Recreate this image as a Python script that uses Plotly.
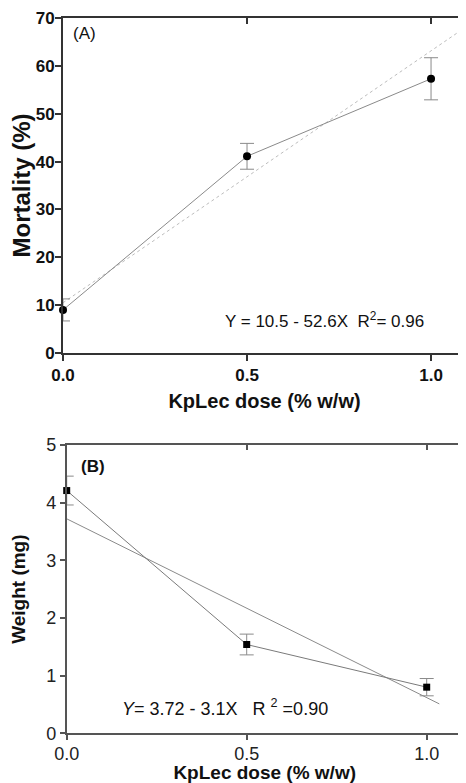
import plotly.graph_objects as go

# ---- data ----
dose = [0.0, 0.5, 1.0]
mortality = [9.0, 41.1, 57.3]
mortality_err = [2.3, 2.7, 4.4]
fit_a_x = [0.0, 1.1]
fit_a_y = [10.5, 68.4]

weight = [4.21, 1.54, 0.80]
weight_err = [0.25, 0.18, 0.15]
fit_b_x = [0.0, 1.035]
fit_b_y = [3.72, 0.51]

xticks = [0.0, 0.5, 1.0]
xticklabels = ["0.0", "0.5", "1.0"]
yticks_a = [0, 10, 20, 30, 40, 50, 60, 70]
yticks_b = [0, 1, 2, 3, 4, 5]

FONT = "Liberation Sans, Arial, sans-serif"
# page is 466x783; the default 8px body margin offsets the figure
OFF = 8
W, H = 466 - OFF, 783 - OFF


def fx(px):
    return (px - OFF) / W


def fy(py):
    return 1 - (py - OFF) / H


fig = go.Figure()

# Panel A
fig.add_trace(go.Scatter(x=fit_a_x, y=fit_a_y, mode="lines",
                         line=dict(color="#bdbdbd", width=1, dash="dot"),
                         xaxis="x", yaxis="y", showlegend=False, hoverinfo="skip"))
fig.add_trace(go.Scatter(x=dose, y=mortality, mode="lines+markers",
                         line=dict(color="#8a8a8a", width=1),
                         marker=dict(symbol="circle", size=8, color="black"),
                         error_y=dict(type="data", array=mortality_err, color="#8a8a8a",
                                      thickness=1, width=7),
                         cliponaxis=False, xaxis="x", yaxis="y", showlegend=False))
# Panel B
fig.add_trace(go.Scatter(x=fit_b_x, y=fit_b_y, mode="lines",
                         line=dict(color="#8a8a8a", width=1),
                         xaxis="x2", yaxis="y2", showlegend=False, hoverinfo="skip",
                         cliponaxis=False))
fig.add_trace(go.Scatter(x=dose, y=weight, mode="lines+markers",
                         line=dict(color="#7a7a7a", width=1),
                         marker=dict(symbol="square", size=7, color="black"),
                         error_y=dict(type="data", array=weight_err, color="#8a8a8a",
                                      thickness=1, width=7),
                         cliponaxis=False, xaxis="x2", yaxis="y2", showlegend=False))
# empty traces to materialise the mirrored-tick overlay axes
fig.add_trace(go.Scatter(x=[None], y=[None], xaxis="x3", yaxis="y3", showlegend=False))
fig.add_trace(go.Scatter(x=[None], y=[None], xaxis="x4", yaxis="y4", showlegend=False))

dom_a_x = [fx(63), 1.0]
dom_a_y = [fy(353), fy(18)]
dom_b_x = [fx(66.7), fx(462.7)]
dom_b_y = [fy(733.3), fy(445)]

tick_a = dict(family=FONT, size=17, color="#111")
tick_b = dict(family=FONT, size=18, color="#222")

fig.update_layout(
    template="none",
    width=W, height=H,
    margin=dict(l=0, r=0, t=0, b=0),
    paper_bgcolor="white", plot_bgcolor="white",
    showlegend=False,
    xaxis=dict(domain=dom_a_x, anchor="y", range=[0, 1.095],
               tickvals=xticks, ticktext=["<b>%s</b>" % t for t in xticklabels],
               ticks="outside", ticklen=6, tickwidth=2, tickcolor="#333",
               showline=True, linecolor="#333", linewidth=2, mirror=True,
               showgrid=False, zeroline=False, tickfont=tick_a, automargin=False,
               title=dict(text="<b>KpLec dose (% w/w)</b>", standoff=10,
                          font=dict(family=FONT, size=20, color="#111"))),
    yaxis=dict(domain=dom_a_y, anchor="x", range=[0, 70],
               tickvals=yticks_a, ticktext=["<b>%d</b>" % v for v in yticks_a],
               ticks="outside", ticklen=6, tickwidth=2, tickcolor="#333",
               ticklabelstandoff=-3,
               showline=True, linecolor="#333", linewidth=2, mirror=True,
               showgrid=False, zeroline=False, tickfont=tick_a, automargin=False,
               title=dict(text="<b>Mortality (%)</b>", standoff=2,
                          font=dict(family=FONT, size=24, color="#111"))),
    xaxis3=dict(overlaying="x", anchor="y", side="top", range=[0, 1.095],
                tickvals=[0.5, 1.0], showticklabels=False,
                ticks="inside", ticklen=6, tickwidth=2, tickcolor="#333",
                showline=False, showgrid=False, zeroline=False, automargin=False),
    yaxis3=dict(overlaying="y", anchor="x", side="right", range=[0, 70],
                tickvals=yticks_a[1:-1], showticklabels=False,
                ticks="inside", ticklen=6, tickwidth=2, tickcolor="#333",
                showline=False, showgrid=False, zeroline=False, automargin=False),
    xaxis2=dict(domain=dom_b_x, anchor="y2", range=[0, 1.1],
                tickvals=xticks, ticktext=xticklabels,
                ticks="outside", ticklen=5, tickwidth=1.5, tickcolor="#555",
                ticklabelstandoff=-2,
                showline=True, linecolor="#555", linewidth=1.5, mirror=True,
                showgrid=False, zeroline=False, tickfont=tick_b, automargin=False,
                title=dict(text="<b>KpLec dose (% w/w)</b>", standoff=4,
                           font=dict(family=FONT, size=19, color="#111"))),
    yaxis2=dict(domain=dom_b_y, anchor="x2", range=[0, 5],
                tickvals=yticks_b,
                ticks="outside", ticklen=5, tickwidth=1.5, tickcolor="#555",
                showline=True, linecolor="#555", linewidth=1.5, mirror=True,
                showgrid=False, zeroline=False, tickfont=tick_b, automargin=False,
                title=dict(text="<b>Weight (mg)</b>", standoff=20,
                           font=dict(family=FONT, size=19, color="#111"))),
    xaxis4=dict(overlaying="x2", anchor="y2", side="top", range=[0, 1.1],
                tickvals=[0.5, 1.0], showticklabels=False,
                ticks="inside", ticklen=5, tickwidth=1.5, tickcolor="#555",
                showline=False, showgrid=False, zeroline=False, automargin=False),
    yaxis4=dict(overlaying="y2", anchor="x2", side="right", range=[0, 5],
                tickvals=yticks_b[1:-1], showticklabels=False,
                ticks="inside", ticklen=5, tickwidth=1.5, tickcolor="#555",
                showline=False, showgrid=False, zeroline=False, automargin=False),
    annotations=[
        dict(text="(A)", xref="x", yref="y", x=0.022, y=66.8, xanchor="left",
             yanchor="middle", showarrow=False,
             font=dict(family=FONT, size=17, color="#111")),
        dict(text="Y = 10.5 - 52.6X  R<sup>2</sup>= 0.96", xref="x", yref="y",
             x=0.71, y=7, xanchor="center", yanchor="middle", showarrow=False,
             font=dict(family=FONT, size=17, color="#111")),
        dict(text="<b>(B)</b>", xref="x2", yref="y2", x=0.035, y=4.62, xanchor="left",
             yanchor="middle", showarrow=False,
             font=dict(family=FONT, size=17, color="#111")),
        dict(text="<i>Y</i>= 3.72 - 3.1X   R <sup>2</sup> =0.90", xref="x2", yref="y2",
             x=0.44, y=0.45, xanchor="center", yanchor="middle", showarrow=False,
             font=dict(family=FONT, size=18, color="#111")),
    ],
)

fig.write_html("out.html")
